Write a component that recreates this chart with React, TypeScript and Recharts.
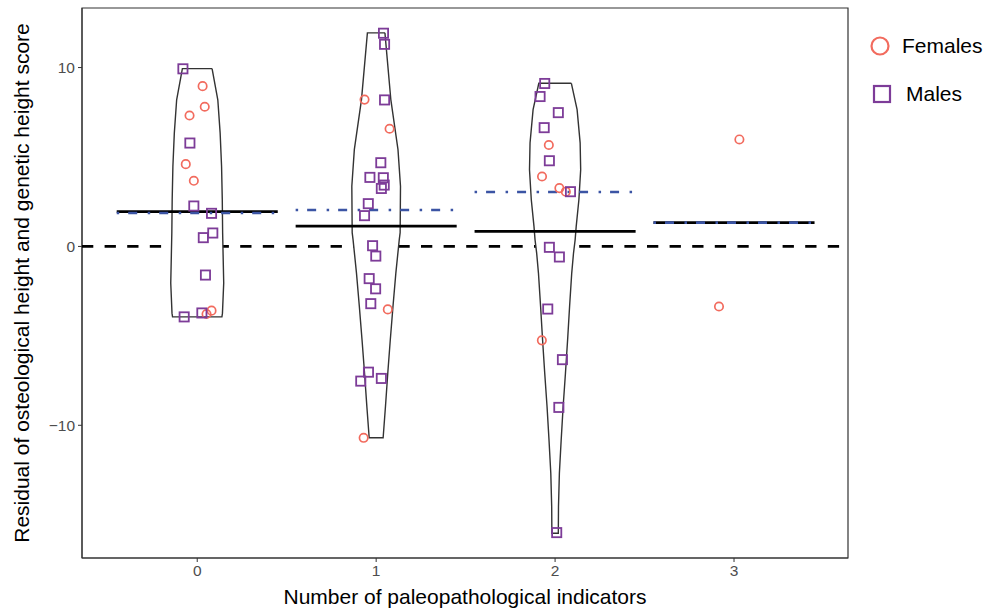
import { ComposedChart, Scatter, XAxis, YAxis, ReferenceArea, Label } from 'recharts';

const FONT = '"Liberation Sans", Arial, Helvetica, sans-serif';
const RED = '#F26B5E';
const PURPLE = '#7D3C98';
const BLUE = '#3B54A4';

const GROUPS = [0, 1, 2, 3];
const X_TICKS = [0, 1, 2, 3];
const Y_TICKS = [-10, 0, 10];
const X_DOMAIN: [number, number] = [-0.644, 3.637];
const Y_DOMAIN: [number, number] = [-17.42, 13.33];

// jittered points: [x, residual]
const females: [number, number][] = [
  [0.030, 8.96], [0.042, 7.81], [-0.043, 7.32], [-0.064, 4.60], [-0.019, 3.67], [0.052, -3.78], [0.080, -3.59],
  [0.935, 8.21], [1.075, 6.58], [1.065, -3.52], [0.930, -10.70],
  [1.965, 5.67], [1.927, 3.91], [2.024, 3.26], [2.060, 3.06], [1.926, -5.25],
  [3.030, 5.98], [2.916, -3.36],
];

const males: [number, number][] = [
  [-0.080, 9.93], [-0.041, 5.78], [-0.019, 2.26], [0.080, 1.85], [0.087, 0.75], [0.034, 0.49], [0.046, -1.60],
  [-0.073, -3.94], [0.026, -3.72],
  [1.041, 11.92], [1.047, 11.30], [1.047, 8.19], [1.026, 4.68], [0.965, 3.86], [1.040, 3.84], [1.045, 3.43],
  [1.029, 3.24], [0.956, 2.39], [0.935, 1.72], [0.980, 0.04], [0.998, -0.54], [0.961, -1.80], [0.997, -2.37],
  [0.970, -3.20], [0.957, -7.03], [0.914, -7.53], [1.029, -7.38],
  [1.942, 9.11], [1.916, 8.38], [2.018, 7.48], [1.939, 6.64], [1.968, 4.79], [2.086, 3.06], [1.968, -0.05],
  [2.024, -0.59], [1.959, -3.50], [2.041, -6.33], [2.021, -9.00], [2.009, -16.0],
];

// violin outlines: [residual, half width], top to bottom
const violin0: [number, number][] = [
  [9.94, 0.083], [8.2, 0.115], [6.35, 0.128], [4.48, 0.136], [2.61, 0.140], [0.75, 0.142],
  [-2.05, 0.148], [-3.73, 0.141], [-3.94, 0.138],
];
const violin1: [number, number][] = [
  [11.94, 0.049], [8.21, 0.082], [5.41, 0.122], [3.36, 0.136], [0.77, 0.134], [0.37, 0.129],
  [-1.49, 0.110], [-3.36, 0.094], [-5.22, 0.079], [-7.08, 0.065], [-8.95, 0.052], [-10.70, 0.039],
];
const violin2: [number, number][] = [
  [9.12, 0.091], [7.65, 0.123], [5.79, 0.140], [4.29, 0.143], [2.61, 0.133], [1.12, 0.118],
  [0.37, 0.112], [-0.37, 0.103], [-1.49, 0.093], [-3.36, 0.081], [-5.22, 0.070], [-7.08, 0.058],
  [-8.95, 0.045], [-10.82, 0.034], [-12.68, 0.024], [-14.55, 0.019], [-16.04, 0.018],
];
const violins = [violin0, violin1, violin2];

const blackMeans = [1.94, 1.14, 0.84, 1.33];
const blueMeans = [1.87, 2.04, 3.04, 1.33];
const HALF = 0.45;

const legendItems = [
  { name: 'Females', color: RED, shape: 'circle' },
  { name: 'Males', color: PURPLE, shape: 'square' },
];

const toPts = (arr: [number, number][]) => arr.map(([x, y]) => ({ x, y }));

function outline(center: number, prof: [number, number][]) {
  const right = prof.map(([y, w]) => ({ x: center + w, y }));
  const left = [...prof].reverse().map(([y, w]) => ({ x: center - w, y }));
  return [...right, ...left, right[0]];
}

const Nothing = () => <g />;
const CircleDot = (p: any) => (
  <circle cx={p.cx} cy={p.cy} r={4.2} fill="none" stroke={RED} strokeWidth={1.7} />
);
const SquareDot = (p: any) => (
  <rect x={p.cx - 4.6} y={p.cy - 4.6} width={9.2} height={9.2} fill="none" stroke={PURPLE} strokeWidth={1.8} />
);

const fmt = (v: number) => (v < 0 ? `\u2212${Math.abs(v)}` : `${v}`);

const YTitle = (props: any) => {
  const vb = props.viewBox;
  const x = vb.x + 21;
  const y = vb.y + vb.height / 2;
  return (
    <text x={x} y={y} transform={`rotate(-90, ${x}, ${y})`} textAnchor="middle" dominantBaseline="central"
      fontSize={21} fill="#000" fontFamily={FONT}>
      Residual of osteological height and genetic height score
    </text>
  );
};

const XTitle = (props: any) => {
  const vb = props.viewBox;
  return (
    <text x={vb.x + vb.width / 2} y={vb.y + 38} textAnchor="middle" dominantBaseline="central"
      fontSize={21} fill="#000" fontFamily={FONT}>
      Number of paleopathological indicators
    </text>
  );
};

export default function App() {
  const tick = { fontSize: 15.5, fill: '#4D4D4D', fontFamily: FONT };
  return (
    <div style={{ position: 'absolute', left: 0, top: 0, width: 998, height: 612, background: '#fff' }}>
      <ComposedChart width={998} height={612} margin={{ top: 8, right: 150, bottom: 0, left: 0 }}>
        <XAxis dataKey="x" type="number" domain={X_DOMAIN} ticks={X_TICKS} allowDataOverflow
          height={54} tick={tick} tickSize={4} tickMargin={3} stroke="#333" tickLine={{ stroke: '#333' }}>
          <Label content={XTitle} />
        </XAxis>
        <YAxis dataKey="y" type="number" domain={Y_DOMAIN} ticks={Y_TICKS} allowDataOverflow
          width={82} tick={tick} tickSize={4} tickMargin={3} tickFormatter={fmt} stroke="#333" tickLine={{ stroke: '#333' }}>
          <Label content={YTitle} />
        </YAxis>
        <ReferenceArea x1={X_DOMAIN[0]} x2={X_DOMAIN[1]} y1={Y_DOMAIN[0]} y2={Y_DOMAIN[1]}
          fill="none" stroke="#333" strokeWidth={1.2} fillOpacity={0} />
        <Scatter data={[{ x: X_DOMAIN[0], y: 0 }, { x: X_DOMAIN[1], y: 0 }]} shape={Nothing}
          line={{ stroke: '#000', strokeWidth: 2.8, strokeDasharray: '11.3 11.3' }} isAnimationActive={false} />
        {violins.map((v, i) => (
          <Scatter key={`v${i}`} data={outline(GROUPS[i], v)} shape={Nothing}
            line={{ stroke: '#333', strokeWidth: 1.4, fill: '#fff' }} isAnimationActive={false} />
        ))}
        {blackMeans.map((m, i) => (
          <Scatter key={`b${i}`} data={[{ x: GROUPS[i] - HALF, y: m }, { x: GROUPS[i] + HALF, y: m }]} shape={Nothing}
            line={{ stroke: '#000', strokeWidth: 2.8 }} isAnimationActive={false} />
        ))}
        {blueMeans.map((m, i) => (
          <Scatter key={`u${i}`} data={[{ x: GROUPS[i] - HALF, y: m }, { x: GROUPS[i] + HALF, y: m }]} shape={Nothing}
            line={{ stroke: BLUE, strokeWidth: 2.6, strokeDasharray: '2.5 9 9 10.5' }} isAnimationActive={false} />
        ))}
        <Scatter name="Females" data={toPts(females)} shape={CircleDot} isAnimationActive={false} />
        <Scatter name="Males" data={toPts(males)} shape={SquareDot} isAnimationActive={false} />
      </ComposedChart>
      <div style={{ position: 'absolute', left: 868, top: 24, fontFamily: FONT }}>
        {legendItems.map((it) => (
          <div key={it.name} style={{ display: 'flex', alignItems: 'center', height: 44, marginBottom: 4 }}>
            <svg width={28} height={28} style={{ marginRight: it.shape === 'circle' ? 6 : 10 }}>
              {it.shape === 'circle'
                ? <circle cx={12} cy={14} r={8.5} fill="none" stroke={it.color} strokeWidth={2.2} />
                : <rect x={6} y={6} width={16} height={16} fill="none" stroke={it.color} strokeWidth={2.2} />}
            </svg>
            <span style={{ fontSize: 21, color: '#000' }}>{it.name}</span>
          </div>
        ))}
      </div>
    </div>
  );
}
